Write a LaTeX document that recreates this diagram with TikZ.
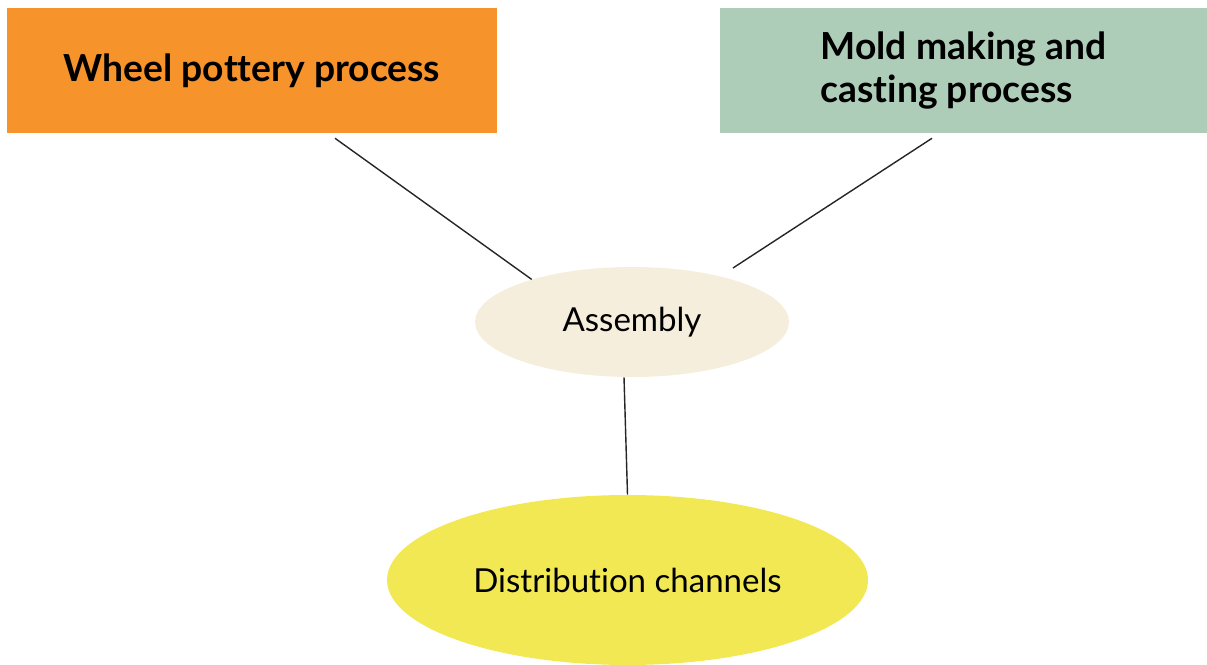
\documentclass[tikz,border=0pt]{standalone}
\usepackage{fontspec}
\setmainfont{Lato}[Ligatures={NoCommon}]
\usepackage{tikz}
\usetikzlibrary{shapes,positioning}
\usepackage{xcolor}
\definecolor{wporange}{RGB}{247,147,43}
\definecolor{mcgreen}{RGB}{174,205,184}
\definecolor{asmcream}{RGB}{245,238,220}
\definecolor{dcyellow}{RGB}{242,232,84}
\tikzstyle{procbox} = [rectangle, minimum height=3.125cm, inner sep=0pt, font=\fontsize{26.5}{31}\selectfont\bfseries]
\tikzstyle{stagebox} = [ellipse, inner sep=0pt, font=\fontsize{23.5}{28}\selectfont]
\tikzstyle{link} = [line width=1pt, color=black!85]

\begin{document}
\begin{tikzpicture}
\useasboundingbox (0,0) rectangle (30.175,16.6);
% Processes
\node[procbox, fill=wporange, minimum width=12.25cm] (wheel) at (6.3,14.8375) {Wheel pottery process};
\node[procbox, fill=mcgreen, minimum width=12.175cm, align=left] (mold) at (24.0875,14.8375) {Mold making and\\casting process};

% Stages
\node[stagebox, fill=asmcream, minimum width=7.85cm, minimum height=2.75cm] (assembly) at (15.8,8.55) {Assembly};
\node[stagebox, fill=dcyellow, minimum width=12.025cm, minimum height=4.25cm] (distribution) at (15.6875,2.1) {Distribution channels};

% Links
\coordinate (wheel-out) at ([xshift=2.075cm,yshift=-0.125cm]wheel.south);
\coordinate (mold-out) at ([xshift=-0.7875cm,yshift=-0.125cm]mold.south);
\coordinate (assembly-in) at ([xshift=2.525cm,yshift=1.35cm]assembly.center);
\draw[link] (wheel-out) -- (assembly.157);
\draw[link] (mold-out) -- (assembly-in);
\draw[link] ([xshift=-0.2cm]assembly.south) -- (distribution.north);
\end{tikzpicture}
\end{document}
